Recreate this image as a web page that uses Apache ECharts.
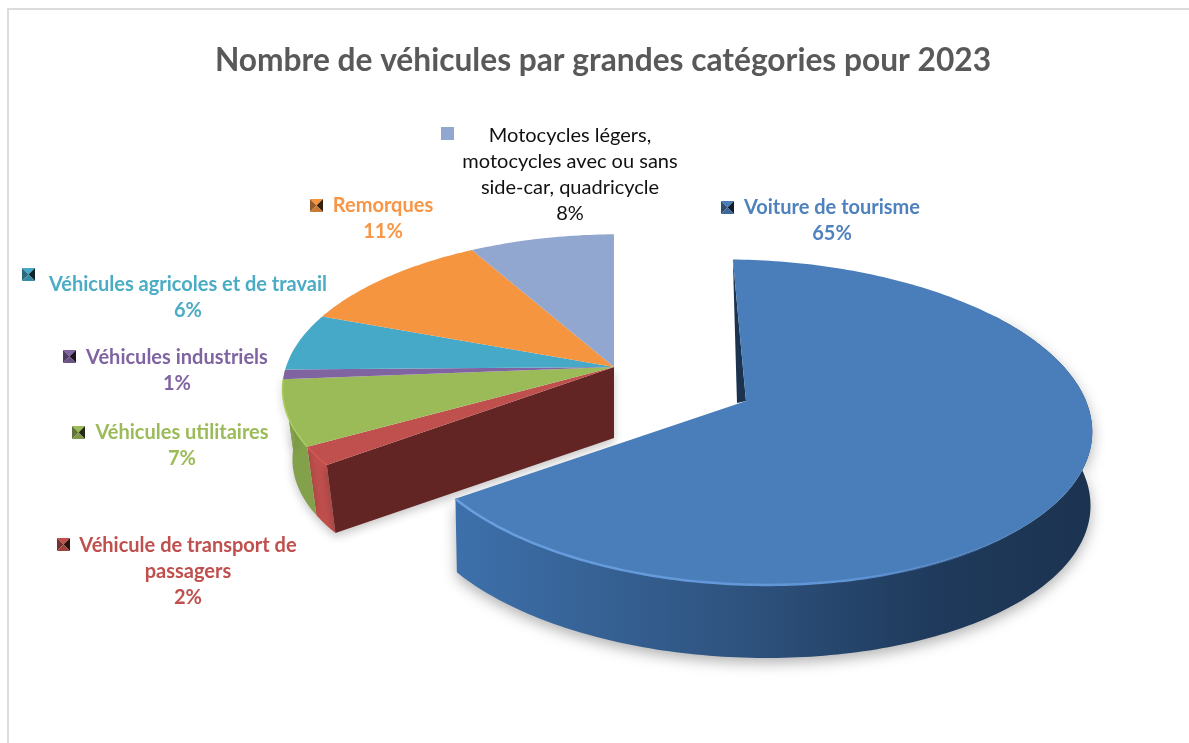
<!DOCTYPE html>
<html><head><meta charset="utf-8">
<style>html,body{margin:0;padding:0;background:#fff}#c{width:1189px;height:743px}</style>
<script src="https://cdn.jsdelivr.net/npm/echarts@6/dist/echarts.min.js"></script>
</head><body><div id="c"></div>
<script>
const chartTitle = 'Nombre de véhicules par grandes catégories pour 2023';
const categories = ['Voiture de tourisme','Véhicule de transport de\npassagers','Véhicules utilitaires','Véhicules industriels','Véhicules agricoles et de travail','Remorques','Motocycles légers,\nmotocycles avec ou sans\nside-car, quadricycle'];
const shares = [65,2,7,1,6,11,8];
const colors = ['#4a7ebb','#c0504d','#9bbb59','#8064a2','#46a9c7','#f59540','#92a7cf'];
const labelColors = ['#4f81bd','#c0504d','#9bbb59','#8064a2','#4bacc6','#f79646','#111111'];
const sideColors = ['#2f5480','#c0504d','#82a14a','#82a14a','#3a8fa8','#cf7c34','#7a8db0'];
const labelWeights = ['bold','bold','bold','bold','bold','bold','normal'];

/* layout only */
const labelCentres = [[832,195],[188,533],[182,420],[177,345],[188,272],[383,193],[570,123]];
const keyBoxes = [[721,201],[57,538],[72,426],[63,350],[22,268],[310,199],[441,127]];
const bigPie = {cx:746,cy:401,a:340,b:160,k:0.13,shear:21,rot:1.5*Math.PI/180,shrink:0.995,depth:74};
const smallPie = {cx:614,cy:367,a:328,b:150,k:0.13,shear:-5,rot:-1*Math.PI/180,shrink:0.97,depth:71};
const LINE = 26, KEY = 13;

const total = shares.reduce((s,v)=>s+v,0);
function ang(i){let s=0;for(let j=0;j<i;j++)s+=shares[j];return s/total*Math.PI*2;}
function upper(p,t){const X=Math.sin(t+p.rot),Y=-Math.cos(t+p.rot),w=1-p.k*Y;return [p.cx+p.a*X/w+p.shear*Y,p.cy+p.b*Y/w];}
function lower(p,t){const q=t===null?[p.cx,p.cy]:upper(p,t);return [p.cx+(q[0]-p.cx)*p.shrink,p.cy+(q[1]-p.cy)*p.shrink+p.depth];}
function arc(fn,p,a,b){const n=Math.max(2,Math.ceil(Math.abs(b-a)/(Math.PI/180))),o=[];for(let i=0;i<=n;i++)o.push(fn(p,a+(b-a)*i/n));return o;}
function shade(hex,f){const n=parseInt(hex.slice(1),16);const c=[n>>16,(n>>8)&255,n&255].map(v=>Math.min(255,Math.round(v*f)));return 'rgb('+c.join(',')+')';}

function renderItem(params){
  const i=params.dataIndex, a0=ang(i), a1=ang(i+1), big=i===0, p=big?bigPie:smallPie, kids=[];
  const col=colors[i];
  const face=[[p.cx,p.cy]].concat(arc(upper,p,a0,a1));
  if(big){
    const wall=arc(upper,p,a0+Math.PI*0.3,a1).concat(arc(lower,p,a1,a0+Math.PI*0.3));
    kids.push({type:'polygon',z2:20,shape:{points:wall},style:{
      fill:new echarts.graphic.LinearGradient(0,0,1,0,[{offset:0,color:'#3d70ab'},{offset:.43,color:'#2f5480'},{offset:.75,color:'#1f3a5c'},{offset:1,color:'#1c3350'}]),
      shadowBlur:14,shadowColor:'rgba(0,0,0,.3)',shadowOffsetY:5}});
    const s=upper(p,a0);
    kids.push({type:'polygon',z2:21,shape:{points:[s,[p.cx,p.cy],[p.cx-9,p.cy+2]]},style:{fill:'#1c3350'}});
    kids.push({type:'polygon',z2:22,shape:{points:face},style:{fill:col}});
    kids.push({type:'polyline',z2:23,shape:{points:arc(upper,p,a1,a1-Math.PI*0.55)},style:{fill:null,lineWidth:2.5,
      stroke:new echarts.graphic.LinearGradient(0,0,1,0,[{offset:0,color:'#6a9fe0'},{offset:.7,color:'#5f94d6'},{offset:1,color:'rgba(95,148,214,0)'}])}});
  }else{
    const vis=a0<Math.PI*1.5;
    if(vis){
      const e=Math.min(a1,Math.PI*1.5);
      const wall=arc(upper,p,a0,e).concat(arc(lower,p,e,a0));
      kids.push({type:'polygon',z2:3,shape:{points:wall},style:{fill:sideColors[i],shadowBlur:10,shadowColor:'rgba(0,0,0,.22)',shadowOffsetY:4}});
      if(i<3) kids.push({type:'polyline',z2:6,shape:{points:arc(upper,p,a0,e)},style:{fill:null,lineWidth:1.5,stroke:shade(col,1.1)}});
    }
    if(i===1){
      const c=upper(p,a0);
      kids.push({type:'polygon',z2:4,shape:{points:[[p.cx,p.cy],c,lower(p,a0),lower(p,null)]},style:{fill:'#632523',shadowBlur:10,shadowColor:'rgba(0,0,0,.22)',shadowOffsetY:4}});
    }
    kids.push({type:'polygon',z2:5,shape:{points:face},style:{fill:col}});
  }
  /* legend key */
  const [kx,ky]=keyBoxes[i], m=[kx+KEY/2,ky+KEY/2], tl=[kx,ky],tr=[kx+KEY,ky],br=[kx+KEY,ky+KEY],bl=[kx,ky+KEY];
  if(i===6){
    kids.push({type:'rect',z2:30,shape:{x:kx,y:ky,width:KEY,height:KEY},style:{fill:col}});
  }else{
    const tris=[[tl,tr,m,col],[tl,bl,m,shade(col,.62)],[tr,br,m,shade(col,.22)],[bl,br,m,shade(col,.82)]];
    tris.forEach(t=>kids.push({type:'polygon',z2:30,shape:{points:[t[0],t[1],t[2]]},style:{fill:t[3]}}));
  }
  /* label */
  const [lx,ly]=labelCentres[i];
  kids.push({type:'text',z2:31,style:{x:lx,y:ly,text:categories[i]+'\n'+shares[i]+'%',align:'center',verticalAlign:'top',
    fill:labelColors[i],font:labelWeights[i]+' 20px Lato',lineHeight:LINE}});
  return {type:'group',children:kids};
}

const chart=echarts.init(document.getElementById('c'),null,{renderer:'canvas'});
chart.setOption({
  animation:false,
  backgroundColor:'#ffffff',
  title:{text:chartTitle,left:598,top:40,textAlign:'center',textStyle:{fontFamily:'Lato',fontWeight:'bold',fontSize:31.7,color:'#595959'}},
  graphic:[
    {type:'line',shape:{x1:7,y1:9,x2:1189,y2:9},style:{stroke:'#dcdcdc',lineWidth:2},silent:true},
    {type:'line',shape:{x1:8,y1:9,x2:8,y2:743},style:{stroke:'#dcdcdc',lineWidth:2},silent:true}
  ],
  series:[{type:'custom',coordinateSystem:'none',data:shares,renderItem:renderItem,silent:true,clip:false}]
});
</script></body></html>
